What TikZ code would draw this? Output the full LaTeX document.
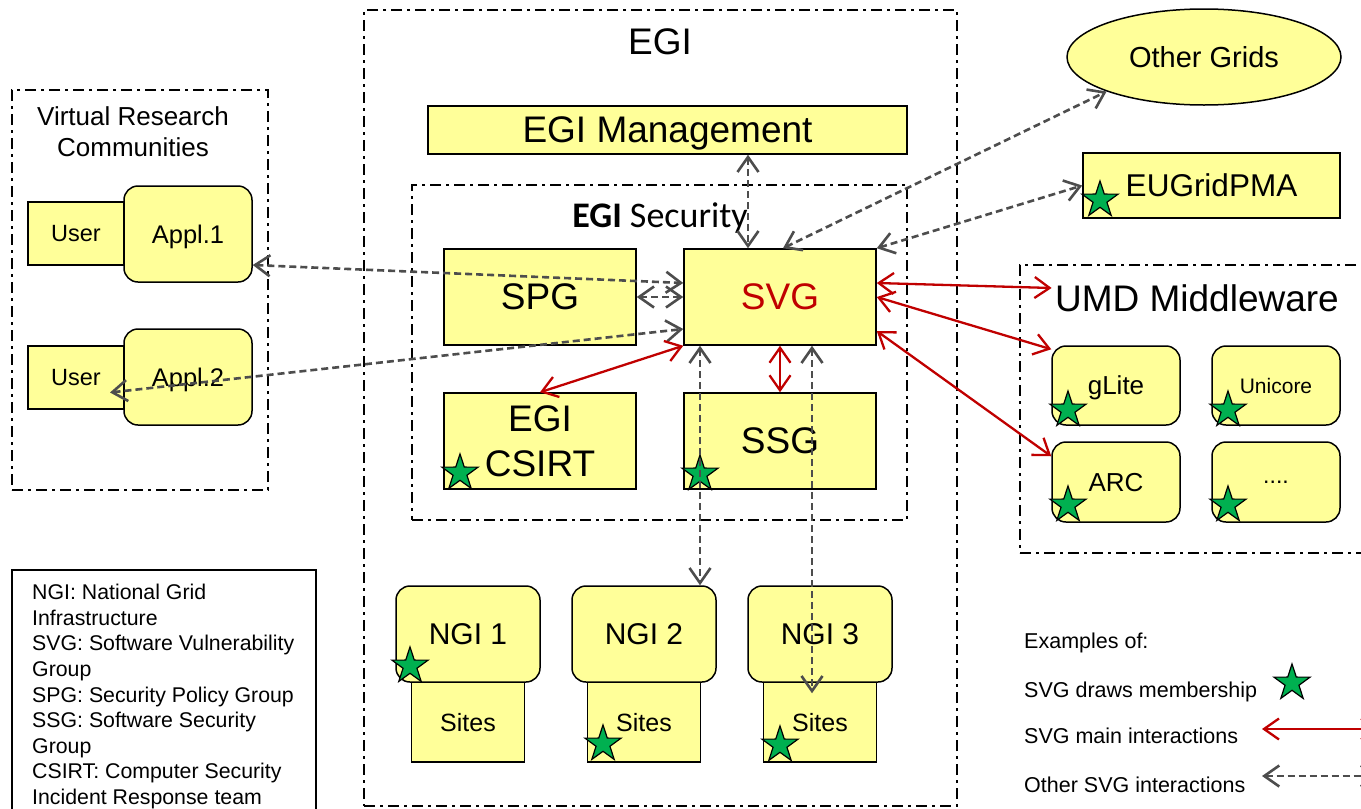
\documentclass[tikz,border=0pt]{standalone}
\usepackage{fontspec}
\setmainfont{Liberation Sans}
\newfontfamily\secfont{Carlito}
\usetikzlibrary{positioning, arrows.meta, shapes.geometric}

\definecolor{boxyellow}{HTML}{FFFF99}
\definecolor{svgred}{HTML}{C00000}
\definecolor{linkgray}{HTML}{4D4D4D}
\definecolor{stargreen}{HTML}{00B050}

\begin{document}
\begin{tikzpicture}[x=1pt, y=-1pt,
		box/.style={draw, rectangle, fill=boxyellow, line width=1.5pt, inner sep=0pt, text depth=0pt},
		rbox/.style={box, rounded corners=14pt},
		group/.style={draw, rectangle, line width=1.5pt, dash pattern=on 11pt off 5pt on 3pt off 5pt},
		memstar/.style={star, star points=5, star point ratio=2.6, draw, line width=1.2pt, fill=stargreen, minimum size=38pt, inner sep=0pt},
		mainlink/.style={<->, svgred, line width=2.3pt},
		otherlink/.style={<->, linkgray, line width=2.6pt, dash pattern=on 7pt off 4pt},
		huge/.style={font=\fontsize{37}{45}\selectfont},
		mid/.style={font=\fontsize{26}{31}\selectfont},
		>={Straight Barb[length=15pt, width=21pt]}]
		\useasboundingbox (0,0) rectangle (1361,809);

		% Groups
		\node (vrc) [group, minimum width=256pt, minimum height=400pt] at (140,290) {};
		\node (vrclbl) [mid, align=center] at (133,132) {Virtual Research\\Communities};
		\node (egi) [group, minimum width=593pt, minimum height=796pt] at (660.5,408) {};
		\node (egilbl) [huge] at (660,42) {EGI};
		\node (sec) [group, minimum width=495pt, minimum height=335pt] at (659.5,352.5) {};
		\node (seclbl) [font=\fontsize{36}{43}\selectfont\secfont] at (660,218) {\textbf{EGI} Security};
		\node (umd) [group, minimum width=360pt, minimum height=288pt] at (1200,409) {};
		\node (umdlbl) [huge] at (1197,298) {UMD Middleware};
		\draw[line width=1.2pt] (12,570) rectangle (316,840);
		\node (gloss) [anchor=north west, align=left, inner sep=0pt, font=\fontsize{21.3}{25.6}\selectfont] at (32,584)
			{NGI: National Grid\\Infrastructure\\SVG: Software Vulnerability\\Group\\SPG: Security Policy Group\\SSG: Software Security\\Group\\CSIRT: Computer Security\\Incident Response team};

		% Nodes
		\node (user1) [box, minimum width=96pt, minimum height=63pt, font=\fontsize{23.5}{28}\selectfont] at (76,233.5) {User};
		\node (appl1) [rbox, minimum width=128pt, minimum height=96pt, font=\fontsize{25.5}{30}\selectfont] at (188,234) {Appl.1};
		\node (user2) [box, minimum width=96pt, minimum height=63pt, font=\fontsize{23.5}{28}\selectfont] at (76,377.5) {User};
		\node (appl2) [rbox, minimum width=128pt, minimum height=96pt, font=\fontsize{25.5}{30}\selectfont] at (188,377) {Appl.2};

		\node (mgmt) [box, minimum width=479pt, minimum height=48pt, huge] at (667.5,130) {EGI Management};
		\node (spg) [box, minimum width=192pt, minimum height=96pt, huge] at (540,297) {SPG};
		\node (svg) [box, minimum width=192pt, minimum height=96pt, huge, text=svgred] at (780,297) {SVG};
		\node (csirt) [box, minimum width=192pt, minimum height=96pt, huge, align=center] at (540,441) {EGI\\CSIRT};
		\node (ssg) [box, minimum width=192pt, minimum height=96pt, huge] at (780,441) {SSG};

		\foreach \n/\x in {1/468, 2/644, 3/820} {
			\node (sites\n) [box, minimum width=113pt, minimum height=80pt, font=\fontsize{25}{30}\selectfont] at (\x,722) {Sites};
			\node (ngi\n) [rbox, minimum width=144pt, minimum height=96pt, font=\fontsize{30}{36}\selectfont] at (\x,634) {NGI \n};
		}

		\node (others) [ellipse, draw, fill=boxyellow, line width=1.5pt, inner sep=0pt, minimum width=274pt, minimum height=96pt, font=\fontsize{29}{35}\selectfont] at (1204,57) {Other Grids};
		\node (pma) [box, minimum width=257pt, minimum height=65pt, font=\fontsize{31.5}{38}\selectfont] at (1211.5,185.5) {EUGridPMA};

		\node (glite) [rbox, minimum width=128pt, minimum height=79pt, mid] at (1116,385.5) {gLite};
		\node (unicore) [rbox, minimum width=128pt, minimum height=79pt, font=\fontsize{21}{25}\selectfont] at (1276,385.5) {Unicore};
		\node (arc) [rbox, minimum width=128pt, minimum height=80pt, mid] at (1116,482) {ARC};
		\node (more) [rbox, minimum width=128pt, minimum height=80pt, font=\fontsize{23}{28}\selectfont] at (1276,482) {....};

		% Stars
		\node (st1) [memstar] at (460,473) {};
		\node (st2) [memstar] at (700,474) {};
		\node (st3) [memstar] at (1100,200) {};
		\node (st4) [memstar] at (1068,410) {};
		\node (st5) [memstar] at (1228,410) {};
		\node (st6) [memstar] at (1068,505) {};
		\node (st7) [memstar] at (1228,505) {};
		\node (st8) [memstar] at (410,666) {};
		\node (st9) [memstar] at (603,744) {};
		\node (st10) [memstar] at (780,745) {};

		% Other interactions
		\draw[otherlink] ([yshift=-31pt]appl1.east) -- ([yshift=14pt]svg.west);
		\draw[otherlink] ([xshift=34pt,yshift=-15pt]user2.center) -- ([yshift=-32pt]svg.west);
		\draw[otherlink] (spg.east) -- (svg.west);
		\draw[otherlink] ([xshift=80.5pt]mgmt.south) -- ([xshift=-32pt]svg.north);
		\draw[otherlink] ([xshift=3pt]svg.north) -- (others.south west);
		\draw[otherlink] (svg.north east) -- (pma.west);
		\draw[otherlink] ([xshift=-80pt]svg.south) -- ([xshift=56pt]ngi2.north);
		\draw[otherlink] ([xshift=32pt]svg.south) -- ([xshift=-8pt,yshift=-12pt]sites3.north);

		% Main interactions
		\draw[mainlink] (svg.south west) -- (csirt.north);
		\draw[mainlink] (svg.south) -- (ssg.north);
		\draw[mainlink] ([yshift=14pt]svg.east) -- ([yshift=10pt]umdlbl.west);
		\draw[mainlink] (svg.east) -- ([yshift=-4pt]glite.north west);
		\draw[mainlink] ([yshift=-34pt]svg.east) -- ([yshift=-15pt]arc.north west);

		% Legend
		\node (ex) [anchor=base west, inner sep=0pt, font=\fontsize{21.5}{25}\selectfont] at (1024,648) {Examples of:};
		\node (exstar) [anchor=base west, inner sep=0pt, font=\fontsize{21.5}{25}\selectfont] at (1024,697) {SVG draws membership};
		\node (exmain) [anchor=base west, inner sep=0pt, font=\fontsize{21.5}{25}\selectfont] at (1024,743) {SVG main interactions};
		\node (exother) [anchor=base west, inner sep=0pt, font=\fontsize{21.5}{25}\selectfont] at (1024,792) {Other SVG interactions};
		\node (lgstar) [memstar] at (1292,683) {};
		\coordinate (lgmaina) at (1262,729);
		\coordinate (lgmainb) at (1378,729);
		\coordinate (lgothera) at (1262,776);
		\coordinate (lgotherb) at (1378,776);
		\draw[mainlink] (lgmaina) -- (lgmainb);
		\draw[otherlink] (lgothera) -- (lgotherb);
	\end{tikzpicture}
\end{document}
